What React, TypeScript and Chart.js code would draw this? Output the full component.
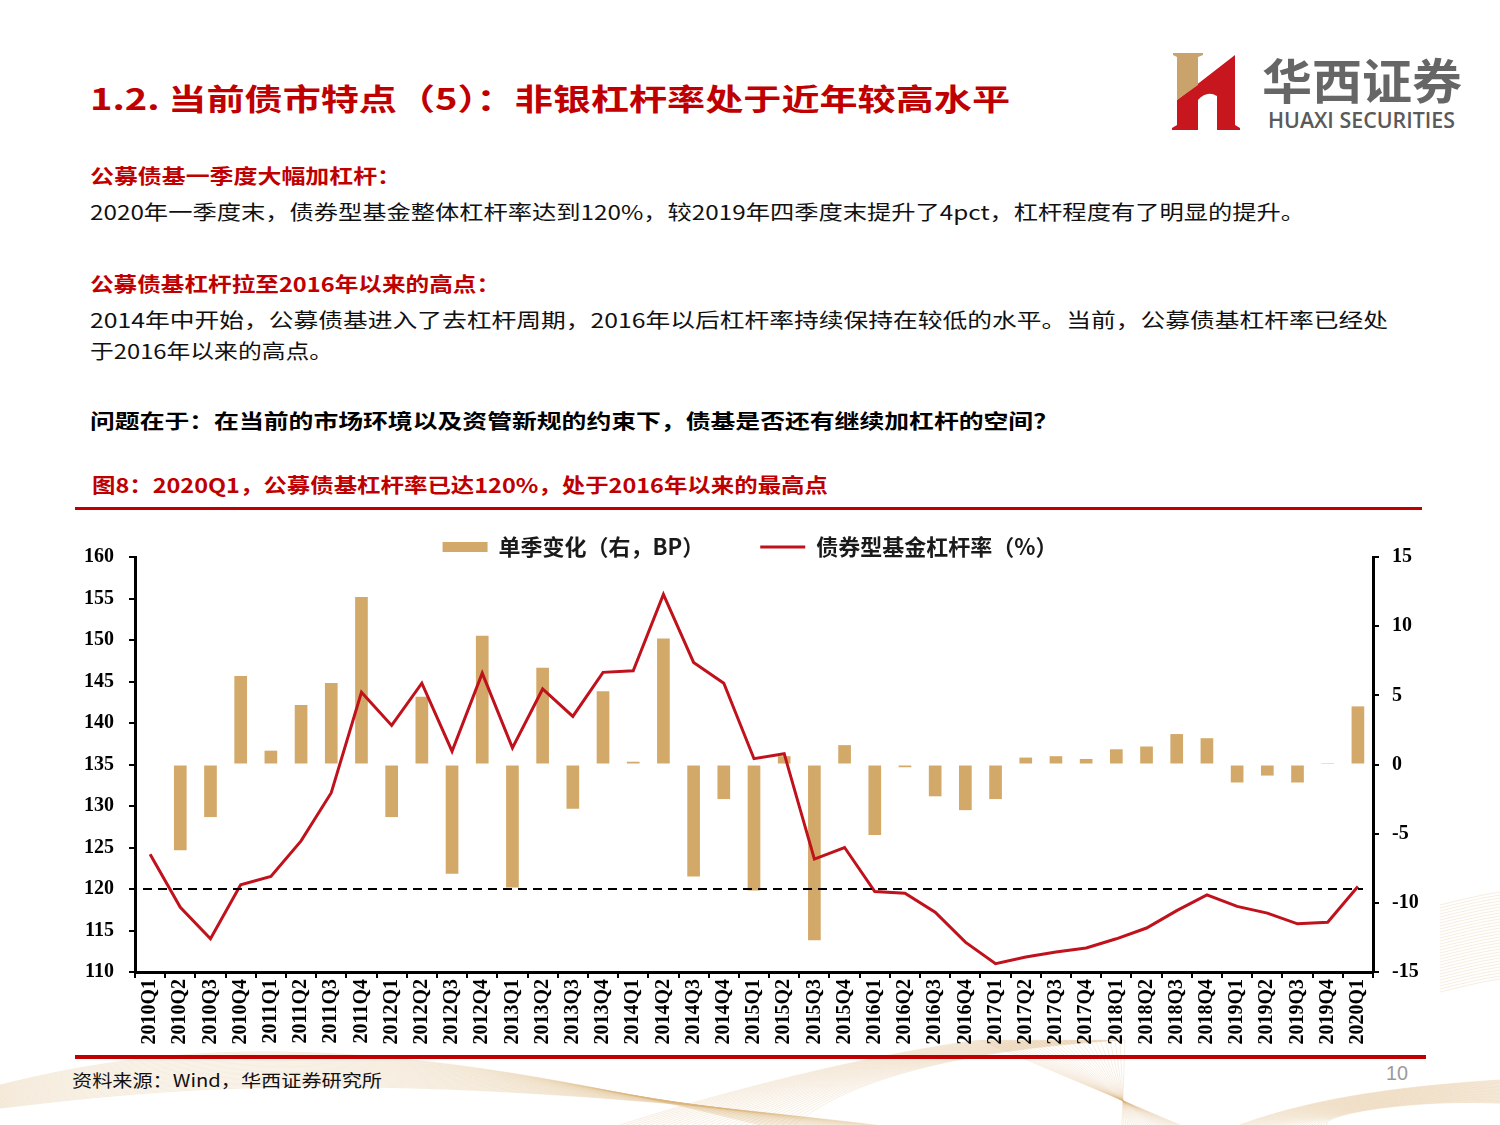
import React, { useEffect, useLayoutEffect, useRef } from "react";
import { Chart, registerables } from "chart.js";

Chart.register(...registerables);

// ---------------- DATA ----------------
const categories = [
  "2010Q1", "2010Q2", "2010Q3", "2010Q4",
  "2011Q1", "2011Q2", "2011Q3", "2011Q4",
  "2012Q1", "2012Q2", "2012Q3", "2012Q4",
  "2013Q1", "2013Q2", "2013Q3", "2013Q4",
  "2014Q1", "2014Q2", "2014Q3", "2014Q4",
  "2015Q1", "2015Q2", "2015Q3", "2015Q4",
  "2016Q1", "2016Q2", "2016Q3", "2016Q4",
  "2017Q1", "2017Q2", "2017Q3", "2017Q4",
  "2018Q1", "2018Q2", "2018Q3", "2018Q4",
  "2019Q1", "2019Q2", "2019Q3", "2019Q4",
  "2020Q1",
];

// 单季变化（右，BP）
const quarterlyChange: (number | null)[] = [
  null, -6.2, -3.8, 6.4,
  1.0, 4.3, 5.9, 12.1,
  -3.8, 4.9, -7.9, 9.3,
  -8.9, 7.0, -3.2, 5.3,
  0.2, 9.1, -8.1, -2.5,
  -9.1, 0.6, -12.7, 1.4,
  -5.1, -0.2, -2.3, -3.3,
  -2.5, 0.5, 0.6, 0.4,
  1.1, 1.3, 2.2, 1.9,
  -1.3, -0.8, -1.3, 0.1,
  4.2,
];

// 债券型基金杠杆率（%）
const leverageRatio = [
  124.2, 117.8, 114.0, 120.5,
  121.5, 125.8, 131.6, 143.7,
  139.7, 144.8, 136.6, 146.0,
  137.0, 144.1, 140.8, 146.1,
  146.3, 155.5, 147.3, 144.8,
  135.7, 136.3, 123.6, 125.0,
  119.7, 119.5, 117.2, 113.6,
  111.0, 111.8, 112.4, 112.9,
  114.0, 115.3, 117.4, 119.3,
  117.9, 117.1, 115.8, 116.0,
  120.3,
];

const REFERENCE_LEVEL = 120;
const leftAxisRange = { min: 110, max: 160, step: 5 };
const rightAxisRange = { min: -15, max: 15, step: 5 };

const BAR_LABEL = "单季变化（右，BP）";
const LINE_LABEL = "债券型基金杠杆率（%）";

// ---------------- STYLE ----------------
const RED = "#C00000";
const LINE_RED = "#C0121C";
const BAR_TAN = "#D3A96A";
const CJK = "'Noto Sans CJK SC', 'Noto Sans', sans-serif";
const SERIF = "'Liberation Serif', 'Times New Roman', serif";

const legendPlugin = {
  id: "topLegend",
  afterDraw(chart: any) {
    const ctx = chart.ctx as CanvasRenderingContext2D;
    const ds = chart.data.datasets;
    ctx.save();
    ctx.font = `bold 22px ${CJK}`;
    const symW = 45;
    const gap = 11;
    const itemGap = 56;
    const widths = ds.map((d: any) => ctx.measureText(d.label).width);
    const total =
      widths.reduce((a: number, b: number) => a + b, 0) +
      ds.length * (symW + gap) +
      itemGap * (ds.length - 1);
    let x = (chart.width - total) / 2;
    const y = 32;
    ds.forEach((d: any, i: number) => {
      if (d.type === "line") {
        ctx.strokeStyle = d.borderColor;
        ctx.lineWidth = 3;
        ctx.beginPath();
        ctx.moveTo(x, y);
        ctx.lineTo(x + symW, y);
        ctx.stroke();
      } else {
        ctx.fillStyle = d.backgroundColor;
        ctx.fillRect(x, y - 5, symW, 10);
      }
      x += symW + gap;
      ctx.fillStyle = "#1a1a1a";
      ctx.textBaseline = "middle";
      ctx.textAlign = "left";
      ctx.fillText(d.label, x, y);
      x += widths[i] + itemGap;
    });
    ctx.restore();
  },
};

const refLinePlugin = {
  id: "refLine",
  afterDatasetsDraw(chart: any) {
    const ctx = chart.ctx as CanvasRenderingContext2D;
    const y = chart.scales.y.getPixelForValue(REFERENCE_LEVEL);
    const { left, right } = chart.chartArea;
    ctx.save();
    ctx.strokeStyle = "#000";
    ctx.lineWidth = 2;
    ctx.setLineDash([9, 6]);
    ctx.beginPath();
    ctx.moveTo(left + 8, y);
    ctx.lineTo(right - 10, y);
    ctx.stroke();
    ctx.restore();
  },
};

function LeverageChart() {
  const ref = useRef<HTMLCanvasElement>(null);
  useEffect(() => {
    if (!ref.current) return;
    const yTickFont = { family: SERIF, size: 20, weight: "bold" as const };
    const xTickFont = { family: SERIF, size: 20, weight: "bold" as const };
    const chart = new Chart(ref.current, {
      data: {
        labels: categories,
        datasets: [
          {
            type: "bar",
            label: BAR_LABEL,
            data: quarterlyChange,
            yAxisID: "y1",
            backgroundColor: BAR_TAN,
            barPercentage: 0.42,
            categoryPercentage: 1.0,
            order: 2,
          } as any,
          {
            type: "line",
            label: LINE_LABEL,
            data: leverageRatio,
            yAxisID: "y",
            borderColor: LINE_RED,
            borderWidth: 3,
            pointRadius: 0,
            tension: 0,
            order: 1,
          } as any,
        ],
      },
      options: {
        animation: false,
        responsive: false,
        maintainAspectRatio: false,
        layout: { padding: { top: 42, left: 0, right: 0, bottom: 0 } },
        plugins: {
          legend: { display: false },
          tooltip: { enabled: false },
        },
        scales: {
          x: {
            type: "category",
            offset: true,
            grid: {
              display: true,
              drawOnChartArea: false,
              drawTicks: true,
              tickLength: 6,
              color: "#000",
              lineWidth: 2,
              offset: true,
            },
            border: { display: true, color: "#000", width: 3 },
            ticks: {
              autoSkip: false,
              minRotation: 90,
              maxRotation: 90,
              padding: 1,
              color: "#000",
              font: xTickFont,
            },
            afterFit: (s: any) => {
              s.height = 83;
            },
          },
          y: {
            type: "linear",
            position: "left",
            min: leftAxisRange.min,
            max: leftAxisRange.max,
            ticks: { stepSize: leftAxisRange.step, padding: 15, color: "#000", font: yTickFont },
            grid: {
              display: true,
              drawOnChartArea: false,
              drawTicks: true,
              tickLength: 6,
              color: "#000",
              lineWidth: 2,
            },
            border: { display: true, color: "#000", width: 3 },
            afterFit: (s: any) => {
              s.width = 60;
            },
          },
          y1: {
            type: "linear",
            position: "right",
            min: rightAxisRange.min,
            max: rightAxisRange.max,
            ticks: { stepSize: rightAxisRange.step, padding: 13, color: "#000", font: yTickFont },
            grid: {
              display: true,
              drawOnChartArea: false,
              drawTicks: true,
              tickLength: 6,
              color: "#000",
              lineWidth: 2,
            },
            border: { display: true, color: "#000", width: 3 },
            afterFit: (s: any) => {
              s.width = 52;
            },
          },
        },
      } as any,
      plugins: [legendPlugin, refLinePlugin],
    });
    return () => chart.destroy();
  }, []);
  return (
    <canvas
      ref={ref}
      width={1350}
      height={540}
      style={{ position: "absolute", left: 75, top: 515, width: 1350, height: 540 }}
    />
  );
}

type FitProps = {
  x: number;
  y: number;
  w: number;
  size: number;
  color: string;
  bold?: boolean;
  family?: string;
  weight?: number;
  children: React.ReactNode;
};

function FitText({ x, y, w, size, color, bold, family, weight, children }: FitProps) {
  const ref = useRef<HTMLSpanElement>(null);
  useLayoutEffect(() => {
    const el = ref.current;
    if (!el) return;
    el.style.transform = "translateY(-50%)";
    const natural = el.getBoundingClientRect().width;
    if (natural > 0) el.style.transform = `translateY(-50%) scaleX(${w / natural})`;
  }, [w]);
  return (
    <span
      ref={ref}
      style={{
        position: "absolute",
        left: x,
        top: y,
        whiteSpace: "nowrap",
        fontSize: size,
        lineHeight: 1,
        color,
        fontFamily: family || CJK,
        fontWeight: weight || (bold ? 700 : 400),
        transformOrigin: "left center",
        transform: "translateY(-50%)",
      }}
    >
      {children}
    </span>
  );
}

function Decoration() {
  const paths: React.ReactNode[] = [];
  for (let i = 0; i < 30; i++) {
    const o = i * 1.6;
    paths.push(
      <path
        key={"a" + i}
        d={`M0 ${1085 + o * 0.5} C 180 ${1040 + o}, 380 ${1030 + o * 0.8}, ${760 + i * 4} 1125`}
        stroke="#D9B27A"
        strokeWidth={0.8}
        fill="none"
        opacity={0.3}
      />
    );
    paths.push(
      <path
        key={"b" + i}
        d={`M${620 + i * 6} 1125 C ${760 + i * 3} 1080, ${900 + i * 2} 1050, ${980 + i * 5} 1040 L ${1180 - i * 2} 1125`}
        stroke="#D9B27A"
        strokeWidth={0.8}
        fill="none"
        opacity={0.28}
      />
    );
    paths.push(
      <path
        key={"c" + i}
        d={`M${1240 + i * 3} 1125 C 1320 ${1095 + o * 0.4}, 1420 ${1085 + o * 0.3}, 1500 ${1080 + o * 0.5}`}
        stroke="#D9B27A"
        strokeWidth={0.8}
        fill="none"
        opacity={0.35}
      />
    );
    paths.push(
      <path
        key={"d" + i}
        d={`M1440 ${905 + i * 3} C 1460 ${900 + i * 3}, 1480 ${895 + i * 3}, 1500 ${892 + i * 3}`}
        stroke="#D9B27A"
        strokeWidth={0.8}
        fill="none"
        opacity={0.3}
      />
    );
  }
  return (
    <svg
      width={1500}
      height={1125}
      style={{ position: "absolute", left: 0, top: 0 }}
      viewBox="0 0 1500 1125"
    >
      {paths}
    </svg>
  );
}

function Logo() {
  return (
    <>
      <svg
        width={68}
        height={77}
        viewBox="0 0 68 77"
        style={{ position: "absolute", left: 1172, top: 53 }}
      >
        <path d="M0,77 L0,75 L5,72 L5,47 L63,2 L63,72 L68,75 L68,77 Z" fill="#C8161E" />
        <path d="M26,77 L26,47 Q35,37 45,43 L45,77 Z" fill="#fff" />
        <path d="M1,0 L31,0 L31,2 L26,4 L26,32 L5,47 L5,4 L1,2 Z" fill="#C9A36B" />
      </svg>
      <FitText x={1262} y={78} w={200} size={48} color="#666" bold>
        华西证券
      </FitText>
      <FitText x={1268} y={119} w={187} size={22} color="#5a5a5a" family="'Open Sans', 'Noto Sans', sans-serif" weight={600}>
        HUAXI SECURITIES
      </FitText>
    </>
  );
}

export default function App() {
  useEffect(() => {
    document.body.style.margin = "0";
  }, []);
  return (
    <div
      style={{
        position: "absolute",
        left: 0,
        top: 0,
        width: 1500,
        height: 1125,
        overflow: "hidden",
        background: "#fff",
      }}
    >
      <Decoration />
      <Logo />
      <FitText x={90} y={97} w={920} size={30} color={RED} bold>
        1.2. 当前债市特点（5）：非银杠杆率处于近年较高水平
      </FitText>
      <FitText x={90} y={176} w={311} size={20} color={RED} bold>
        公募债基一季度大幅加杠杆：
      </FitText>
      <FitText x={90} y={212} w={1215} size={20} color="#111">
        2020年一季度末，债券型基金整体杠杆率达到120%，较2019年四季度末提升了4pct，杠杆程度有了明显的提升。
      </FitText>
      <FitText x={90} y={284} w={410} size={20} color={RED} bold>
        公募债基杠杆拉至2016年以来的高点：
      </FitText>
      <FitText x={90} y={320} w={1298} size={20} color="#111">
        2014年中开始，公募债基进入了去杠杆周期，2016年以后杠杆率持续保持在较低的水平。当前，公募债基杠杆率已经处
      </FitText>
      <FitText x={90} y={351} w={243} size={20} color="#111">
        于2016年以来的高点。
      </FitText>
      <FitText x={90} y={421} w={968} size={20} color="#000" bold>
        问题在于：在当前的市场环境以及资管新规的约束下，债基是否还有继续加杠杆的空间？
      </FitText>
      <FitText x={92} y={485} w={736} size={20} color={RED} bold>
        图8：2020Q1，公募债基杠杆率已达120%，处于2016年以来的最高点
      </FitText>
      <div style={{ position: "absolute", left: 75, top: 507, width: 1347, height: 3, background: RED }} />
      <LeverageChart />
      <div style={{ position: "absolute", left: 75, top: 1055, width: 1351, height: 4, background: RED }} />
      <FitText x={72} y={1079} w={310} size={17} color="#111">
        资料来源：Wind，华西证券研究所
      </FitText>
      <FitText x={1386} y={1073} w={22} size={20} color="#9a9a9a" family="'Liberation Sans', sans-serif">
        10
      </FitText>
    </div>
  );
}
